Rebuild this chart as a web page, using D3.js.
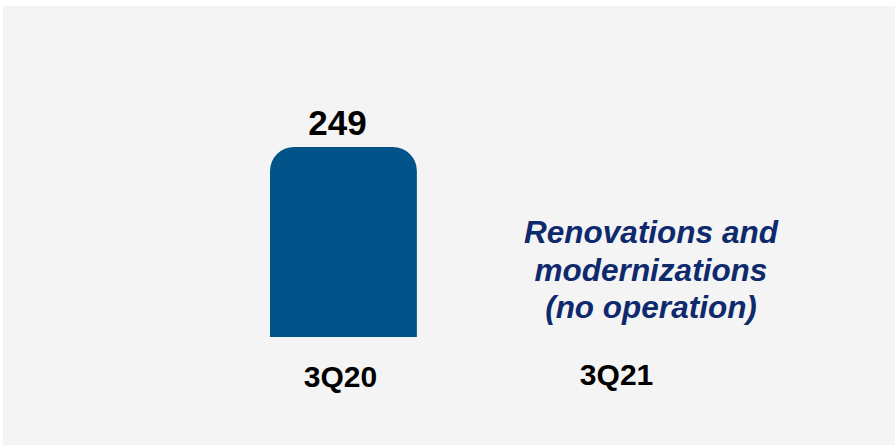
<!DOCTYPE html>
<meta charset="utf-8">
<style>
body { margin: 0; background: #fff; }
text { font-family: "Liberation Sans", Arial, sans-serif; font-weight: bold; }
</style>
<body>
<script src="https://d3js.org/d3.v7.min.js"></script>
<script>
var quarters = ["3Q20", "3Q21"];
var values = [249, null];
var noteLines = ["Renovations and", "modernizations", "(no operation)"];

var width = 896, height = 447;

var svg = d3.select("body").append("svg")
    .attr("width", width)
    .attr("height", height);

// panel
svg.append("rect")
    .attr("x", 3).attr("y", 6)
    .attr("width", 892).attr("height", 439)
    .attr("fill", "#f4f4f4");

var x = d3.scaleBand()
    .domain(quarters)
    .range([270, 694])
    .paddingInner(0.47)
    .paddingOuter(0);

var y = d3.scaleLinear()
    .domain([0, 300])
    .range([337, 108]);

function topRounded(x0, y0, w, h, r) {
  r = Math.min(r, w / 2, h);
  return "M" + x0 + "," + (y0 + h) +
         "V" + (y0 + r) +
         "A" + r + "," + r + " 0 0 1 " + (x0 + r) + "," + y0 +
         "H" + (x0 + w - r) +
         "A" + r + "," + r + " 0 0 1 " + (x0 + w) + "," + (y0 + r) +
         "V" + (y0 + h) + "Z";
}

var data = quarters.map(function(q, i) { return {q: q, v: values[i]}; });
var withVal = data.filter(function(d) { return d.v != null; });

svg.selectAll(".bar")
    .data(withVal)
  .enter().append("path")
    .attr("class", "bar")
    .attr("fill", "#03538b")
    .attr("d", function(d) {
      return topRounded(x(d.q), y(d.v), x.bandwidth(), y(0) - y(d.v), 24);
    });

// value labels
svg.selectAll(".val")
    .data(withVal)
  .enter().append("text")
    .attr("class", "val")
    .attr("x", function(d) { return x(d.q) + x.bandwidth() / 2 - 6; })
    .attr("y", function(d) { return y(d.v) - 12; })
    .attr("text-anchor", "middle")
    .attr("font-size", 35)
    .attr("fill", "#000")
    .text(function(d) { return d.v; });

// category labels
svg.selectAll(".cat")
    .data(quarters)
  .enter().append("text")
    .attr("class", "cat")
    .attr("x", function(d, i) { return x(d) + x.bandwidth() / 2 + (i === 0 ? -3 : -4); })
    .attr("y", function(d, i) { return i === 0 ? 387 : 385; })
    .attr("text-anchor", "middle")
    .attr("font-size", 30)
    .attr("fill", "#000")
    .text(function(d) { return d; });

// note for missing quarter
svg.append("text")
    .attr("text-anchor", "middle")
    .attr("font-size", 31.5)
    .attr("font-style", "italic")
    .attr("fill", "#0e2a6c")
  .selectAll("tspan")
    .data(noteLines)
  .enter().append("tspan")
    .attr("x", 651)
    .attr("y", function(d, i) { return 243 + i * 37.5; })
    .text(function(d) { return d; });
</script>
</body>
